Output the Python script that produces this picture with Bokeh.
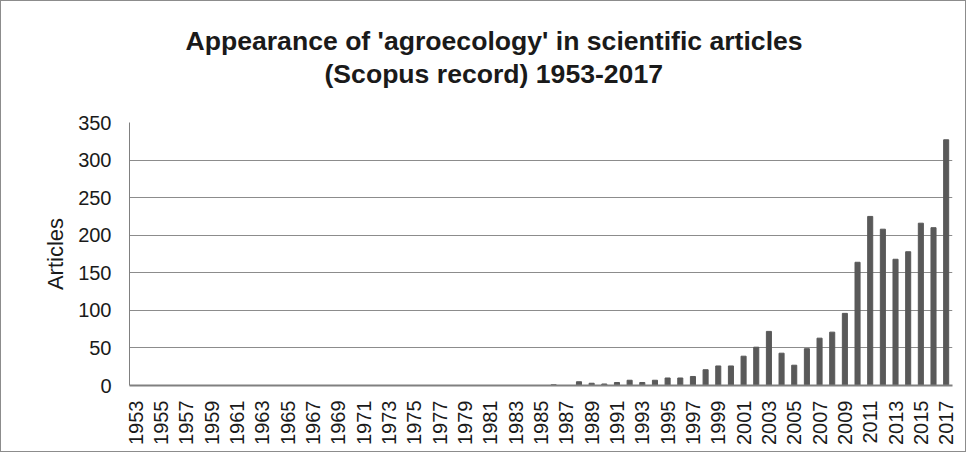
import math
from bokeh.plotting import figure
from bokeh.models import FixedTicker, Title, ColumnDataSource, Range1d
from bokeh.embed import file_html
from bokeh.resources import INLINE

years = list(range(1953, 2018))
articles = [0] * 33 + [1, 0, 5, 3, 2, 4, 7, 4, 7, 10, 10, 12, 21, 26, 26,
                       39, 51, 72, 43, 27, 49, 63, 71, 96, 164, 225, 208,
                       168, 178, 216, 210, 327]
tick_years = years[::2]
y_ticks = [0, 50, 100, 150, 200, 250, 300, 350]
title_line1 = "Appearance of 'agroecology' in scientific articles"
title_line2 = "(Scopus record) 1953-2017"
y_label = "Articles"

src = ColumnDataSource(dict(year=years, n=articles))

W, H = 966, 452
FL, FT, FR, FB = 128, 121, 951, 384
p = figure(width=W, height=H, output_backend="svg", toolbar_location=None,
           x_range=Range1d(years[0] - 0.5, years[-1] + 0.5),
           y_range=Range1d(0, 350))
p.title = None
p.min_border_left = FL
p.min_border_right = W - FR
p.min_border_top = FT
p.min_border_bottom = H - FB
p.outline_line_color = None
p.background_fill_color = "white"
p.border_fill_color = "white"
p.styles = {"border": "1px solid #8c8c8c"}

p.vbar(x="year", top="n", width=0.4, source=src, color="#595959")

spacer = Title(text=" ", text_font_size="1px", standoff=30)
t2 = Title(text=title_line2, align="left", offset=195,
           text_font="Liberation Sans", text_font_size="26.6px",
           text_font_style="bold", text_color="#1a1a1a", standoff=2)
t1 = Title(text=title_line1, align="left", offset=56,
           text_font="Liberation Sans", text_font_size="26.6px",
           text_font_style="bold", text_color="#1a1a1a", standoff=0)
p.add_layout(spacer, "above")
p.add_layout(t2, "above")
p.add_layout(t1, "above")

p.xaxis.ticker = FixedTicker(ticks=tick_years)
p.xaxis.major_label_orientation = math.pi / 2
p.xaxis.major_label_text_font = "Liberation Sans"
p.xaxis.major_label_text_font_size = "20px"
p.xaxis.major_label_text_color = "#1a1a1a"
p.xaxis.major_tick_line_color = None
p.xaxis.minor_tick_line_color = None
p.xaxis.axis_line_color = "#808080"
p.xaxis.axis_line_width = 2
p.xaxis.major_label_standoff = 9

p.yaxis.ticker = FixedTicker(ticks=y_ticks)
p.yaxis.major_label_text_font = "Liberation Sans"
p.yaxis.major_label_text_font_size = "20px"
p.yaxis.major_label_text_color = "#1a1a1a"
p.yaxis.major_tick_line_color = None
p.yaxis.minor_tick_line_color = None
p.yaxis.axis_line_color = "#808080"
p.yaxis.major_label_standoff = 12
p.yaxis.axis_label = y_label
p.yaxis.axis_label_text_font = "Liberation Sans"
p.yaxis.axis_label_text_font_size = "22px"
p.yaxis.axis_label_text_font_style = "normal"
p.yaxis.axis_label_text_color = "#1a1a1a"
p.yaxis.axis_label_standoff = 7

p.xgrid.grid_line_color = None
p.ygrid.grid_line_color = "#8c8c8c"
p.ygrid.grid_line_width = 1

open("out.html", "w").write(file_html(p, INLINE))
